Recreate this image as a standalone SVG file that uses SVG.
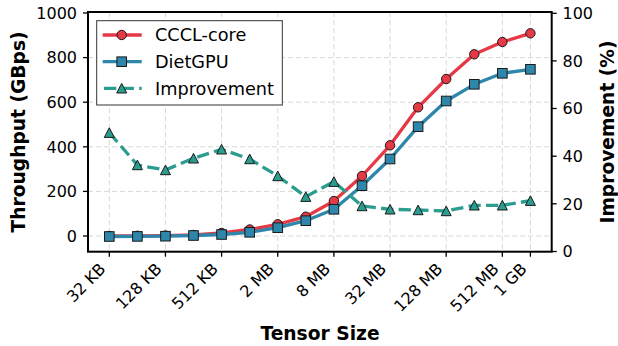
<svg xmlns="http://www.w3.org/2000/svg" xmlns:xlink="http://www.w3.org/1999/xlink" width="618" height="346" viewBox="0 0 618 346">
<style>
text{font-family:"DejaVu Sans","Liberation Sans",sans-serif;fill:#000}
.tick{font-size:16px}
.lab{font-size:18.67px;font-weight:bold}
.leg{font-size:17.7px}
.grid line{stroke:#d8d8d8;stroke-width:1;stroke-dasharray:5 3}
.spine{fill:none;stroke:#000;stroke-width:2}
.tk line{stroke:#000;stroke-width:1.3}
.red{fill:none;stroke:#E63946;stroke-width:3.3;stroke-linejoin:round;stroke-linecap:round}
.blue{fill:none;stroke:#2E86AB;stroke-width:3.3;stroke-linejoin:round;stroke-linecap:round}
.teal{fill:none;stroke:#2A9D8F;stroke-width:3.3;stroke-dasharray:12.3 5.3;stroke-linejoin:round}
.mr{fill:#E63946;stroke:#1a1a1a;stroke-width:1}
.mb{fill:#2E86AB;stroke:#1a1a1a;stroke-width:1}
.mt{fill:#2A9D8F;stroke:#1a1a1a;stroke-width:1}
</style>
<defs>
<circle id="mc" r="4.7"/>
<rect id="ms" x="-4.8" y="-4.8" width="9.6" height="9.6"/>
<path id="mtri" d="M0,-4.9 L-5,4.7 L5,4.7 Z"/>
</defs>
<rect width="618" height="346" fill="#fff"/>

<g id="grid" class="grid">
<line x1="109.3" y1="12" x2="109.3" y2="251.7"/>
<line x1="165.45" y1="12" x2="165.45" y2="251.7"/>
<line x1="221.6" y1="12" x2="221.6" y2="251.7"/>
<line x1="277.75" y1="12" x2="277.75" y2="251.7"/>
<line x1="333.9" y1="12" x2="333.9" y2="251.7"/>
<line x1="390.05" y1="12" x2="390.05" y2="251.7"/>
<line x1="446.2" y1="12" x2="446.2" y2="251.7"/>
<line x1="502.35" y1="12" x2="502.35" y2="251.7"/>
<line x1="530.4" y1="12" x2="530.4" y2="251.7"/>
<line x1="88" y1="236" x2="551.7" y2="236"/>
<line x1="88" y1="191.4" x2="551.7" y2="191.4"/>
<line x1="88" y1="146.8" x2="551.7" y2="146.8"/>
<line x1="88" y1="102.2" x2="551.7" y2="102.2"/>
<line x1="88" y1="57.6" x2="551.7" y2="57.6"/>
</g>

<g id="series-cccl">
<polyline class="red" points="109.3,236 137.4,235.8 165.45,235.6 193.5,235 221.6,233 249.7,229.5 277.75,224.3 305.8,216.7 333.9,201 362,176 390.05,145.3 418.1,107.3 446.2,79 474.3,54.3 502.35,42 530.4,33.3"/>
<g class="mr">
<use href="#mc" x="109.3" y="236"/><use href="#mc" x="137.4" y="235.8"/><use href="#mc" x="165.45" y="235.6"/><use href="#mc" x="193.5" y="235"/><use href="#mc" x="221.6" y="233"/><use href="#mc" x="249.7" y="229.5"/><use href="#mc" x="277.75" y="224.3"/><use href="#mc" x="305.8" y="216.7"/><use href="#mc" x="333.9" y="201"/><use href="#mc" x="362" y="176"/><use href="#mc" x="390.05" y="145.3"/><use href="#mc" x="418.1" y="107.3"/><use href="#mc" x="446.2" y="79"/><use href="#mc" x="474.3" y="54.3"/><use href="#mc" x="502.35" y="42"/><use href="#mc" x="530.4" y="33.3"/>
</g>
</g>

<g id="series-dietgpu">
<polyline class="blue" points="109.3,236.5 137.4,236.4 165.45,236.2 193.5,235.5 221.6,234.5 249.7,232.3 277.75,227.7 305.8,220.7 333.9,209.3 362,185.7 390.05,159 418.1,126.7 446.2,101 474.3,84.3 502.35,73.3 530.4,69.3"/>
<g class="mb">
<use href="#ms" x="109.3" y="236.5"/><use href="#ms" x="137.4" y="236.4"/><use href="#ms" x="165.45" y="236.2"/><use href="#ms" x="193.5" y="235.5"/><use href="#ms" x="221.6" y="234.5"/><use href="#ms" x="249.7" y="232.3"/><use href="#ms" x="277.75" y="227.7"/><use href="#ms" x="305.8" y="220.7"/><use href="#ms" x="333.9" y="209.3"/><use href="#ms" x="362" y="185.7"/><use href="#ms" x="390.05" y="159"/><use href="#ms" x="418.1" y="126.7"/><use href="#ms" x="446.2" y="101"/><use href="#ms" x="474.3" y="84.3"/><use href="#ms" x="502.35" y="73.3"/><use href="#ms" x="530.4" y="69.3"/>
</g>
</g>

<g id="series-improvement">
<polyline class="teal" points="109.3,132.7 137.4,165 165.45,170 193.5,158.3 221.6,149.3 249.7,159 277.75,176 305.8,196.7 333.9,181.7 362,206 390.05,209.3 418.1,210 446.2,211 474.3,205.3 502.35,205.3 530.4,200.7"/>
<g class="mt">
<use href="#mtri" x="109.3" y="132.7"/><use href="#mtri" x="137.4" y="165"/><use href="#mtri" x="165.45" y="170"/><use href="#mtri" x="193.5" y="158.3"/><use href="#mtri" x="221.6" y="149.3"/><use href="#mtri" x="249.7" y="159"/><use href="#mtri" x="277.75" y="176"/><use href="#mtri" x="305.8" y="196.7"/><use href="#mtri" x="333.9" y="181.7"/><use href="#mtri" x="362" y="206"/><use href="#mtri" x="390.05" y="209.3"/><use href="#mtri" x="418.1" y="210"/><use href="#mtri" x="446.2" y="211"/><use href="#mtri" x="474.3" y="205.3"/><use href="#mtri" x="502.35" y="205.3"/><use href="#mtri" x="530.4" y="200.7"/>
</g>
</g>

<g id="axes">
<rect class="spine" x="88" y="12" width="463.7" height="239.7"/>
<g class="tk">
<line x1="83" y1="236" x2="88" y2="236"/><line x1="83" y1="191.4" x2="88" y2="191.4"/><line x1="83" y1="146.8" x2="88" y2="146.8"/><line x1="83" y1="102.2" x2="88" y2="102.2"/><line x1="83" y1="57.6" x2="88" y2="57.6"/><line x1="83" y1="13" x2="88" y2="13"/>
<line x1="551.7" y1="251.5" x2="556.7" y2="251.5"/><line x1="551.7" y1="203.8" x2="556.7" y2="203.8"/><line x1="551.7" y1="156.2" x2="556.7" y2="156.2"/><line x1="551.7" y1="108.5" x2="556.7" y2="108.5"/><line x1="551.7" y1="60.9" x2="556.7" y2="60.9"/><line x1="551.7" y1="13.3" x2="556.7" y2="13.3"/>
<line x1="109.3" y1="251.7" x2="109.3" y2="256.7"/><line x1="165.45" y1="251.7" x2="165.45" y2="256.7"/><line x1="221.6" y1="251.7" x2="221.6" y2="256.7"/><line x1="277.75" y1="251.7" x2="277.75" y2="256.7"/><line x1="333.9" y1="251.7" x2="333.9" y2="256.7"/><line x1="390.05" y1="251.7" x2="390.05" y2="256.7"/><line x1="446.2" y1="251.7" x2="446.2" y2="256.7"/><line x1="502.35" y1="251.7" x2="502.35" y2="256.7"/><line x1="530.4" y1="251.7" x2="530.4" y2="256.7"/>
</g>
<g class="tick" text-anchor="end">
<text x="77" y="241.8">0</text><text x="77" y="197.2">200</text><text x="77" y="152.6">400</text><text x="77" y="108">600</text><text x="77" y="63.4">800</text><text x="77" y="18.8">1000</text>
</g>
<g class="tick">
<text x="562.5" y="257.3">0</text><text x="562.5" y="209.6">20</text><text x="562.5" y="162">40</text><text x="562.5" y="114.3">60</text><text x="562.5" y="66.7">80</text><text x="562.5" y="19.1">100</text>
</g>
<g class="tick" text-anchor="end">
<text transform="translate(106.6,270) rotate(-45)">32 KB</text>
<text transform="translate(162.75,270) rotate(-45)">128 KB</text>
<text transform="translate(218.9,270) rotate(-45)">512 KB</text>
<text transform="translate(275.05,270) rotate(-45)">2 MB</text>
<text transform="translate(331.2,270) rotate(-45)">8 MB</text>
<text transform="translate(387.35,270) rotate(-45)">32 MB</text>
<text transform="translate(443.5,270) rotate(-45)">128 MB</text>
<text transform="translate(499.65,270) rotate(-45)">512 MB</text>
<text transform="translate(527.7,270) rotate(-45)">1 GB</text>
</g>
<text class="lab" x="320" y="340" text-anchor="middle">Tensor Size</text>
<text class="lab" transform="translate(25.3,132) rotate(-90)" text-anchor="middle">Throughput (GBps)</text>
<text class="lab" transform="translate(613.5,132) rotate(-90)" text-anchor="middle">Improvement (%)</text>
</g>

<g id="legend">
<rect x="96.7" y="20.7" width="185.6" height="84.3" fill="#fff" fill-opacity="0.95" stroke="#333" stroke-width="1"/>
<line class="red" x1="102.7" y1="35" x2="141.7" y2="35" style="stroke-linecap:butt"/>
<use href="#mc" class="mr" x="121.7" y="35"/>
<text class="leg" x="155" y="41.4">CCCL-core</text>
<line class="blue" x1="102.7" y1="61.7" x2="141.7" y2="61.7" style="stroke-linecap:butt"/>
<use href="#ms" class="mb" x="121.7" y="61.7"/>
<text class="leg" x="155" y="68.1">DietGPU</text>
<line class="teal" x1="104" y1="88.3" x2="141.7" y2="88.3"/>
<use href="#mtri" class="mt" x="121.7" y="88.3"/>
<text class="leg" x="155" y="94.7">Improvement</text>
</g>
</svg>
